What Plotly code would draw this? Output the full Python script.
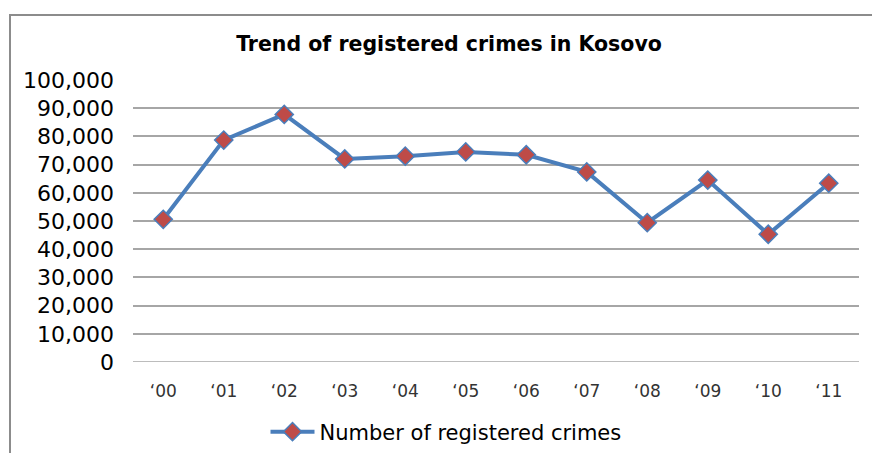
import plotly.graph_objects as go

years = ["\u201800", "\u201801", "\u201802", "\u201803", "\u201804", "\u201805",
         "\u201806", "\u201807", "\u201808", "\u201809", "\u201810", "\u201811"]
crimes = [50600, 78700, 87800, 72000, 73000, 74500, 73500, 67400, 49400, 64500, 45300, 63400]
series_name = "Number of registered crimes"
chart_title = "Trend of registered crimes in Kosovo"

W, H = 872, 453
L, R, T, B = 133, 13, 80, 91
pw, ph = W - L - R, H - T - B

def px_x(p):
    return (p - L) / pw

def px_y(p):
    return (H - B - p) / ph

FONT = "DejaVu Sans, Liberation Sans, Arial, sans-serif"

fig = go.Figure()
fig.add_trace(go.Scatter(
    x=list(range(len(years))), y=crimes, name=series_name, mode="lines+markers",
    line=dict(color="#4a7ebb", width=4),
    marker=dict(symbol="diamond", size=14, color="#be4b48",
                line=dict(color="#4a7ebb", width=1.5)),
))

fig.update_layout(
    width=W, height=H,
    margin=dict(l=L, r=R, t=T, b=B, autoexpand=False),
    paper_bgcolor="white", plot_bgcolor="white",
    font=dict(family=FONT, color="#000000"),
    title=dict(text="<b>" + chart_title + "</b>", x=449 / W, xref="container", xanchor="center",
               y=1 - 44 / H, yref="container", yanchor="middle",
               font=dict(size=20.5, color="#000000", family=FONT)),
    showlegend=True,
    legend=dict(orientation="h", x=px_x(446), xanchor="center", y=px_y(432), yanchor="middle",
                font=dict(size=21, color="#000000", family=FONT), itemwidth=44),
    shapes=[dict(type="rect", xref="paper", yref="paper",
                 x0=px_x(10), x1=px_x(890), y0=px_y(470), y1=px_y(15),
                 line=dict(color="#8c8c8c", width=2), fillcolor="rgba(0,0,0,0)", layer="below")],
)

fig.update_xaxes(
    tickmode="array", tickvals=list(range(len(years))), ticktext=years,
    range=[-0.5, len(years) - 0.5], showgrid=False, zeroline=False, showline=False,
    ticks="", tickfont=dict(size=17, color="#333333", family=FONT), ticklabelstandoff=17,
)
fig.update_yaxes(
    range=[0, 100000], dtick=10000, tickformat=",", showgrid=True,
    gridcolor="#a6a6a6", gridwidth=1.5, zeroline=False, showline=False, ticks="",
    tickfont=dict(size=22, color="#000000", family=FONT), ticklabelstandoff=18,
)
fig.add_hline(y=0, line=dict(color="#a6a6a6", width=1.5))

fig.write_html("out.html")
